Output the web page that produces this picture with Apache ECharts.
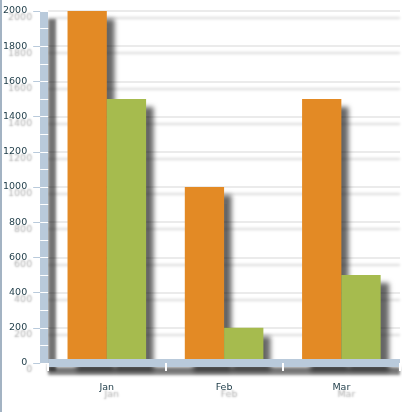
<!DOCTYPE html>
<html><head><meta charset="utf-8">
<script src="https://cdn.jsdelivr.net/npm/echarts@6/dist/echarts.min.js"></script>
<style>
html,body{margin:0;padding:0;background:#fff;}
#wrap{position:relative;width:402px;height:412px;}
#c{width:402px;height:412px;}
#edge{position:absolute;left:0;top:0;width:2px;height:412px;background:#a3b3c3;}
</style></head>
<body><div id="wrap"><div id="c"></div><div id="edge"></div></div>
<script>
const categories = ['Jan', 'Feb', 'Mar'];
const seriesA = [2000, 1000, 1500];
const seriesB = [1500, 200, 500];
const yMin = 0, yMax = 2000, yStep = 200;

const wallBlue = '#b9cadb';
const labelColor = '#1d3b47';
const shadowText = {
  textShadowColor: 'rgba(0,0,0,0.35)', textShadowBlur: 2,
  textShadowOffsetX: 5, textShadowOffsetY: 7
};
const barShadow = {
  shadowColor: 'rgba(0,0,0,0.6)', shadowBlur: 5,
  shadowOffsetX: 8, shadowOffsetY: 8
};

const chart = echarts.init(document.getElementById('c'));
chart.setOption({
  animation: false,
  grid: { left: 48, right: 2, top: 11, bottom: 49 },
  xAxis: [{
    type: 'category', data: categories, offset: 4, z: 5,
    axisLine: { show: true, lineStyle: { color: wallBlue, width: 8, cap: 'butt',
      shadowColor: 'rgba(0,0,0,0.5)', shadowBlur: 3, shadowOffsetX: 0, shadowOffsetY: 8 } },
    axisTick: { show: false },
    axisLabel: Object.assign({ color: labelColor, fontFamily: 'DejaVu Sans', fontSize: 9.5, margin: 16 }, shadowText),
    splitLine: { show: false }
  }, {
    type: 'category', data: categories, position: 'bottom', offset: 0, z: 6,
    axisLine: { show: false },
    axisTick: { show: true, length: 8, lineStyle: { color: '#ffffff', width: 2 } },
    axisLabel: { show: false },
    splitLine: { show: false }
  }],
  yAxis: [{
    type: 'value', min: yMin, max: yMax, interval: yStep, offset: 4, z: 1,
    axisLine: { show: true, lineStyle: { color: wallBlue, width: 8, cap: 'butt',
      shadowColor: 'rgba(0,0,0,0.55)', shadowBlur: 3, shadowOffsetX: 8, shadowOffsetY: 8 } },
    axisTick: { show: true, length: 11, lineStyle: { color: wallBlue, width: 1 } },
    axisLabel: Object.assign({ color: labelColor, fontFamily: 'DejaVu Sans', fontSize: 9.5, margin: 17,
      formatter: function (v) { return String(v); } }, shadowText),
    splitLine: { show: true, lineStyle: { color: '#e4e4e4', width: 1.5,
      shadowColor: 'rgba(0,0,0,0.2)', shadowBlur: 3, shadowOffsetX: 0, shadowOffsetY: 7 } }
  }, {
    type: 'value', min: yMin, max: yMax, interval: yStep, position: 'left', offset: 0, z: 2,
    axisLine: { show: false },
    axisTick: { show: true, length: 8, lineStyle: { color: '#ffffff', width: 1 } },
    minorTick: { show: true, splitNumber: 2, length: 8, lineStyle: { color: '#ffffff', width: 1 } },
    axisLabel: { show: false },
    splitLine: { show: false }
  }],
  series: [{
    name: 'A', type: 'bar', data: seriesA, xAxisIndex: 0, yAxisIndex: 0,
    barGap: '0%', barCategoryGap: '33%',
    itemStyle: Object.assign({ color: '#e38a25' }, barShadow)
  }, {
    name: 'B', type: 'bar', data: seriesB, xAxisIndex: 0, yAxisIndex: 0,
    barGap: '0%', barCategoryGap: '33%',
    itemStyle: Object.assign({ color: '#a6bb4e' }, barShadow)
  }]
});
</script></body></html>
